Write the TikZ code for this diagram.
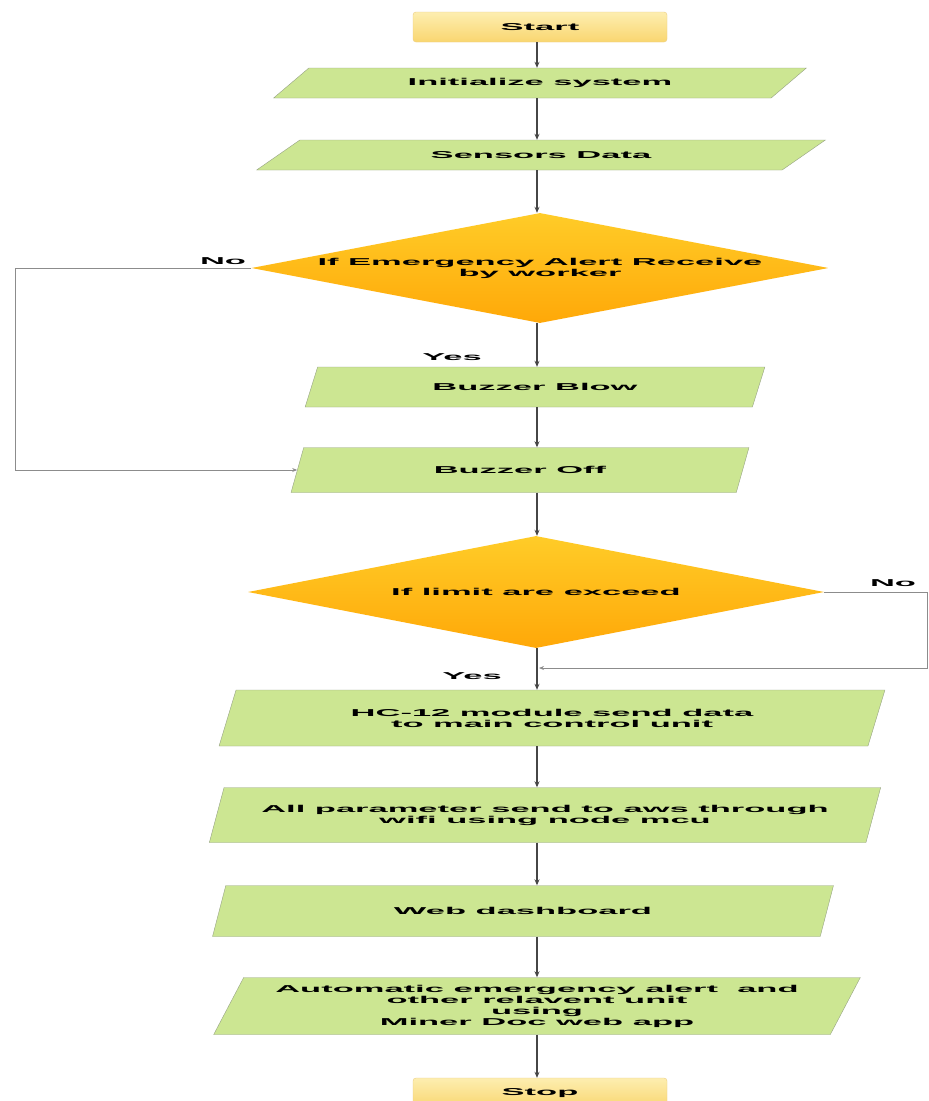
\documentclass[tikz,border=0pt]{standalone}
\usepackage{fontspec}
\newfontfamily\flowfont[FakeStretch=3.45]{Liberation Sans}
\usepackage{tikz}
\usetikzlibrary{shapes.geometric}
\usetikzlibrary{arrows.meta}

\definecolor{iogreen}{RGB}{204,230,146}
\definecolor{ioline}{RGB}{150,162,132}
\definecolor{decitop}{RGB}{255,204,40}
\definecolor{decibot}{RGB}{255,168,8}
\definecolor{termtop}{RGB}{253,238,176}
\definecolor{termbot}{RGB}{249,214,112}
\definecolor{termline}{RGB}{236,206,130}
\definecolor{flowline}{RGB}{70,70,70}
\definecolor{loopline}{RGB}{140,140,140}

\begin{document}
\begin{tikzpicture}[x=1pt, y=-1pt,
  every node/.style={font=\flowfont\bfseries\fontsize{10}{11}\selectfont, align=center},
  term/.style={rectangle, rounded corners=3pt, draw=termline, top color=termtop, bottom color=termbot, minimum width=254pt, minimum height=30pt},
  io/.style={trapezium, trapezium left angle=#1, trapezium right angle=180-#1, trapezium stretches=true, draw=ioline, fill=iogreen, inner sep=0pt},
  decision/.style={diamond, aspect=5.2, top color=decitop, bottom color=decibot, minimum width=577pt, minimum height=110pt, inner sep=0pt},
  flow/.style={draw=flowline, line width=1.3pt, -{Stealth[length=6pt,width=5pt]}},
  loop/.style={draw=loopline, line width=1pt, -{Stealth[length=5pt,width=4pt]}},
  tag/.style={inner sep=1pt}]
\useasboundingbox (0,0) rectangle (929,1101);
\fill[white] (0,0) rectangle (929,1101);

\node[term] (start) at (540,27) {Start};
\node[io=24.8, minimum width=535pt, minimum height=30pt] (init) at (540,83) {Initialize system};
\node[io=19.7, minimum width=571pt, minimum height=30pt] (sens) at (541,155) {Sensors Data};
\node[decision] (alert) at (540,268) {If Emergency Alert Receive\\by worker};
\node[io=51.3, minimum width=460pt, minimum height=40pt] (blow) at (535,387) {Buzzer Blow};
\node[io=55.4, minimum width=459pt, minimum height=45pt] (off) at (520,470) {Buzzer Off};
\node[decision, minimum width=576pt, minimum height=112pt] (limit) at (536,592) {If limit are exceed};
\node[io=59.5, minimum width=668pt, minimum height=56pt] (hc) at (552,718) {HC-12 module send data\\to main control unit};
\node[io=57.5, minimum width=674pt, minimum height=55pt] (aws) at (545,815) {All parameter send to aws through\\wifi using node mcu};
\node[io=51.9, minimum width=621pt, minimum height=51pt] (web) at (523,911) {Web dashboard};
\node[io=57.7, minimum width=650pt, minimum height=57pt] (auto) at (537,1006) {Automatic emergency alert\ \ and\\other relavent unit\\using\\Miner Doc web app};
\node[term] (stop) at (540,1093) {Stop};

\node[tag] (no1) at (223,261) {No};
\node[tag] (yes1) at (452,357) {Yes};
\node[tag] (no2) at (893,583) {No};
\node[tag] (yes2) at (472,676) {Yes};

\coordinate (spine) at (537,0);
\draw[flow] (start.south -| spine) -- (init.north -| spine);
\draw[flow] (init.south -| spine) -- (sens.north -| spine);
\draw[flow] (sens.south -| spine) -- (alert.north -| spine);
\draw[flow] (alert.south -| spine) -- (blow.north -| spine);
\draw[flow] (blow.south -| spine) -- (off.north -| spine);
\draw[flow] (off.south -| spine) -- (limit.north -| spine);
\draw[flow] (limit.south -| spine) -- (hc.north -| spine);
\draw[flow] (hc.south -| spine) -- (aws.north -| spine);
\draw[flow] (aws.south -| spine) -- (web.north -| spine);
\draw[flow] (web.south -| spine) -- (auto.north -| spine);
\draw[flow] (auto.south -| spine) -- (stop.north -| spine);

% no branches
\coordinate (nol) at (15,268);
\draw[loop] (alert.west) -- (nol) |- (off.west);
\coordinate (nor) at (927,592);
\coordinate (merge) at (539,668);
\draw[loop] (limit.east) -- (nor) |- (merge);
\end{tikzpicture}
\end{document}
